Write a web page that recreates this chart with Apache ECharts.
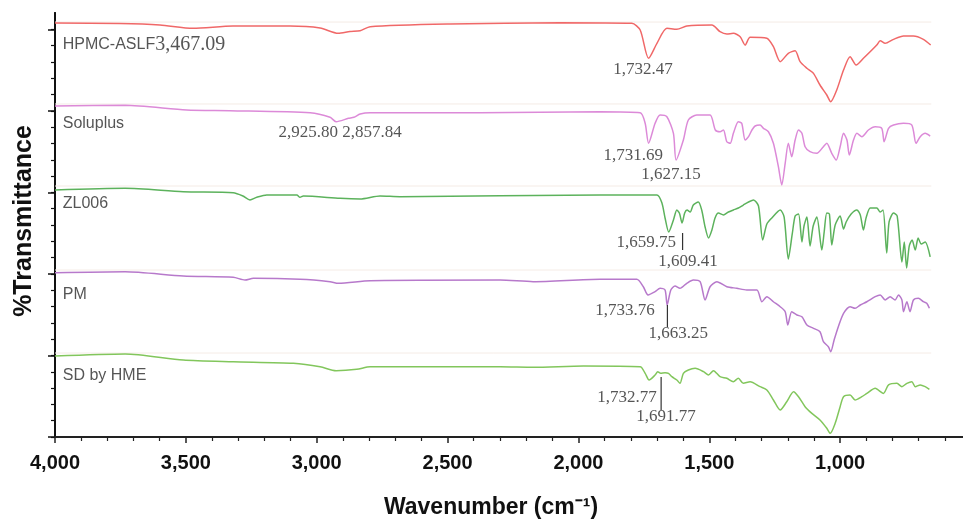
<!DOCTYPE html>
<html><head><meta charset="utf-8">
<script src="https://cdn.jsdelivr.net/npm/echarts@6/dist/echarts.min.js"></script>
<style>html,body{margin:0;padding:0;background:#fff;overflow:hidden}#c{width:963px;height:524px}</style>
</head><body><div id="c"></div>
<script>
// x-axis tick labels (wavenumber, cm-1)
const xTickLabels = [1000, 1500, 2000, 2500, 3000, 3500, 4000];
// y major / minor tick positions (offset %T units)
const yMajorTicks = [0, 1, 2, 3, 4, 5];
const yMinorTicks = [0,0.2,0.4,0.6,0.8,1,1.2,1.4,1.6,1.8,2,2.2,2.4,2.6,2.8,3,3.2,3.4,3.6,3.8,4,4.2,4.4,4.6,4.8,5];

// spectra: [wavenumber, offset transmittance]
const hpmc = [[4000,5.077],[3752,5.071],[3599,5.053],[3473,5.012],[3320,5.040],[3102,5.040],[2987,5.016],[2918,4.951],[2873,4.973],[2834,4.983],[2796,5.032],[2490,5.065],[2070,5.081],[1796,5.074],[1764,4.991],[1732,4.644],[1700,4.828],[1662,5.012],[1624,5.000],[1586,5.040],[1490,5.053],[1459,4.971],[1433,4.942],[1408,4.951],[1382,4.909],[1363,4.807],[1344,4.902],[1280,4.890],[1255,4.787],[1229,4.603],[1198,4.706],[1172,4.738],[1153,4.603],[1127,4.522],[1102,4.460],[1077,4.317],[1051,4.194],[1036,4.112],[1013,4.256],[987,4.501],[962,4.664],[939,4.562],[911,4.644],[860,4.807],[847,4.860],[828,4.828],[796,4.877],[758,4.918],[720,4.918],[682,4.877],[654,4.807]];
const soluplus = [[4000,4.059],[3732,4.068],[3497,4.010],[3331,4.002],[3025,3.977],[2949,3.921],[2926,3.867],[2879,3.908],[2858,3.921],[2834,3.961],[2796,3.977],[2376,3.977],[1917,3.989],[1764,3.977],[1745,3.847],[1732,3.602],[1707,3.847],[1688,3.949],[1662,3.928],[1637,3.724],[1627,3.397],[1599,3.642],[1580,3.888],[1548,3.949],[1497,3.949],[1477,3.765],[1459,3.744],[1446,3.765],[1433,3.621],[1420,3.602],[1408,3.724],[1389,3.867],[1376,3.847],[1363,3.642],[1350,3.683],[1337,3.765],[1325,3.814],[1306,3.826],[1293,3.786],[1274,3.744],[1255,3.602],[1236,3.315],[1223,3.090],[1210,3.357],[1198,3.602],[1185,3.437],[1172,3.642],[1159,3.765],[1146,3.724],[1134,3.560],[1115,3.499],[1089,3.479],[1064,3.560],[1051,3.602],[1032,3.479],[1015,3.397],[1000,3.560],[987,3.724],[974,3.642],[965,3.458],[949,3.642],[936,3.724],[917,3.683],[892,3.765],[866,3.805],[841,3.786],[832,3.621],[815,3.786],[796,3.826],[758,3.847],[726,3.826],[710,3.602],[694,3.683],[675,3.724],[656,3.691]];
const zl006 = [[4000,3.029],[3732,3.050],[3510,3.008],[3319,2.996],[3282,2.956],[3255,2.907],[3229,2.940],[3191,2.968],[3076,2.968],[3064,2.940],[3051,2.956],[2911,2.927],[2834,2.919],[2758,2.956],[2682,2.947],[1917,2.968],[1700,2.968],[1681,2.870],[1669,2.686],[1655,2.514],[1637,2.661],[1624,2.784],[1614,2.745],[1604,2.625],[1594,2.747],[1585,2.784],[1573,2.759],[1561,2.845],[1542,2.882],[1529,2.784],[1516,2.575],[1503,2.441],[1490,2.539],[1478,2.686],[1465,2.747],[1446,2.723],[1427,2.759],[1408,2.784],[1389,2.808],[1370,2.845],[1350,2.882],[1331,2.907],[1312,2.833],[1296,2.416],[1280,2.612],[1261,2.686],[1229,2.784],[1214,2.698],[1198,2.183],[1183,2.490],[1172,2.710],[1159,2.735],[1146,2.392],[1138,2.588],[1127,2.698],[1115,2.342],[1103,2.588],[1089,2.698],[1070,2.293],[1061,2.514],[1051,2.747],[1041,2.735],[1032,2.355],[1019,2.600],[1000,2.710],[987,2.551],[977,2.637],[958,2.735],[936,2.784],[923,2.723],[911,2.539],[901,2.686],[885,2.808],[860,2.808],[847,2.759],[836,2.784],[822,2.257],[813,2.637],[796,2.747],[782,2.710],[764,2.146],[755,2.392],[746,2.073],[736,2.342],[725,2.416],[713,2.293],[702,2.441],[690,2.367],[675,2.391],[656,2.208]];
const pm = [[4000,2.015],[3732,2.027],[3510,1.975],[3319,1.959],[3274,1.925],[3242,1.946],[3064,1.934],[2949,1.905],[2917,1.885],[2796,1.917],[2299,1.925],[2173,1.905],[1917,1.934],[1777,1.934],[1752,1.843],[1734,1.742],[1707,1.782],[1688,1.824],[1669,1.803],[1661,1.619],[1647,1.803],[1631,1.852],[1612,1.824],[1586,1.885],[1561,1.925],[1535,1.905],[1516,1.680],[1497,1.843],[1471,1.905],[1433,1.843],[1395,1.824],[1357,1.803],[1318,1.803],[1299,1.659],[1280,1.721],[1255,1.659],[1229,1.598],[1210,1.537],[1200,1.374],[1185,1.537],[1165,1.496],[1146,1.475],[1127,1.374],[1102,1.333],[1077,1.291],[1064,1.169],[1045,1.107],[1036,1.046],[1023,1.190],[1007,1.353],[987,1.517],[962,1.598],[943,1.578],[923,1.619],[898,1.659],[866,1.721],[847,1.742],[828,1.680],[809,1.721],[790,1.680],[777,1.742],[764,1.680],[758,1.537],[745,1.659],[733,1.537],[720,1.680],[701,1.701],[682,1.659],[669,1.640],[659,1.578]];
const sdHme = [[4000,0.993],[3732,1.018],[3510,0.944],[3319,0.923],[3089,0.904],[2987,0.862],[2926,0.813],[2847,0.830],[2796,0.862],[2299,0.862],[2172,0.855],[1981,0.871],[1764,0.862],[1745,0.781],[1730,0.699],[1707,0.760],[1697,0.801],[1686,0.781],[1669,0.789],[1656,0.781],[1643,0.740],[1624,0.699],[1612,0.658],[1599,0.781],[1580,0.822],[1554,0.842],[1522,0.801],[1503,0.760],[1484,0.813],[1459,0.740],[1433,0.720],[1408,0.678],[1389,0.720],[1370,0.658],[1344,0.678],[1306,0.617],[1280,0.576],[1255,0.454],[1229,0.331],[1204,0.433],[1178,0.555],[1159,0.494],[1134,0.372],[1108,0.290],[1077,0.209],[1051,0.107],[1038,0.045],[1019,0.168],[1000,0.372],[987,0.494],[962,0.515],[943,0.454],[917,0.494],[898,0.535],[866,0.597],[835,0.535],[815,0.638],[783,0.658],[764,0.617],[745,0.658],[726,0.678],[713,0.617],[694,0.638],[675,0.617],[659,0.585]];

// sample names and their vertical label positions
const sampleNames = ['HPMC-ASLF', 'Soluplus', 'ZL006', 'PM', 'SD by HME'];
const nameSuffix = ['3,467.09', '', '', '', ''];
const nameY = [4.807, 3.847, 2.857, 1.750, 0.748];
const nameX = 3980;
const colors = ['#f06868', '#dc8ad8', '#5cb25c', '#b779cb', '#82c65c'];

// faint guide line levels
const guideLevels = [5.089, 4.084, 3.078, 2.048, 1.030];

// peak annotations
const peakText = ['1,732.47','2,925.80 2,857.84','1,731.69','1,627.15','1,659.75','1,609.41','1,733.76','1,663.25','1,732.77','1,691.77'];
const peakX = [1753, 2911, 1791, 1646, 1741, 1581, 1822, 1619, 1814, 1665];
const peakY = [4.501, 3.728, 3.446, 3.225, 2.379, 2.158, 1.557, 1.263, 0.478, 0.245];
// leader lines [wavenumber, top, bottom]
const leaderX = [1602, 1660, 1684];
const leaderTop = [2.502, 1.619, 0.736];
const leaderBottom = [2.293, 1.349, 0.331];

const spectra = [hpmc, soluplus, zl006, pm, sdHme];

const series = [];
guideLevels.forEach(function (lv) {
  series.push({type: 'line', data: [[4000, lv], [652, lv]], showSymbol: false, silent: true, z: 1,
    lineStyle: {color: '#f5ece6', width: 1}});
});
spectra.forEach(function (d, i) {
  series.push({type: 'line', name: sampleNames[i], data: d, showSymbol: false, z: 3, smooth: 0.25,
    lineStyle: {color: colors[i], width: 1.5}});
});
leaderX.forEach(function (x, i) {
  series.push({type: 'line', data: [[x, leaderTop[i]], [x, leaderBottom[i]]], showSymbol: false, z: 4,
    lineStyle: {color: '#333', width: 1.2}});
});
series.push({
  type: 'scatter', z: 5, symbolSize: 1, itemStyle: {color: 'rgba(0,0,0,0)'},
  data: peakText.map(function (t, i) { return [peakX[i], peakY[i], t]; }),
  label: {show: true, position: 'inside', formatter: function (p) { return p.value[2]; },
    fontFamily: 'Liberation Serif', fontSize: 17, color: '#2a2a2a'}
});
series.push({
  type: 'scatter', z: 5, symbolSize: 1, itemStyle: {color: 'rgba(0,0,0,0)'},
  data: sampleNames.map(function (n, i) { return [nameX, nameY[i], i]; }),
  label: {show: true, position: 'right', distance: 2,
    formatter: function (p) { var i = p.value[2]; return '{a|' + sampleNames[i] + '}' + (nameSuffix[i] ? '{b|' + nameSuffix[i] + '}' : ''); },
    rich: {a: {fontFamily: 'Liberation Sans', fontSize: 16, color: '#2a2a2a'},
           b: {fontFamily: 'Liberation Serif', fontSize: 20, color: '#2a2a2a'}}}
});

const chart = echarts.init(document.getElementById('c'), null, {renderer: 'canvas'});
chart.setOption({
  animation: false,
  backgroundColor: '#fff',
  grid: {left: 55, width: 916, top: 13, height: 424, containLabel: false, outerBoundsMode: 'none'},
  xAxis: {
    type: 'value', min: 500, max: 4000, interval: 500, inverse: true,
    axisLine: {show: true, onZero: false, lineStyle: {color: '#222', width: 2}},
    axisTick: {show: true, length: 6, lineStyle: {color: '#222', width: 1.5}},
    minorTick: {show: true, splitNumber: 5, length: 4, lineStyle: {color: '#222', width: 1.2}},
    axisLabel: {show: true, margin: 16, fontFamily: 'Liberation Sans', fontWeight: 'bold', fontSize: 20, color: '#111',
      formatter: function (v) { return xTickLabels.indexOf(v) >= 0 ? v.toLocaleString('en-US') : ''; }},
    splitLine: {show: false}, minorSplitLine: {show: false}
  },
  yAxis: [{
    type: 'value', min: 0, max: 5.2, position: 'left',
    axisLine: {show: true, onZero: false, lineStyle: {color: '#111', width: 2}},
    axisTick: {show: true, length: 7, customValues: yMajorTicks, lineStyle: {color: '#111', width: 1.5}},
    axisLabel: {show: false}, splitLine: {show: false}
  }, {
    type: 'value', min: 0, max: 5.2, position: 'left',
    axisLine: {show: true, onZero: false, lineStyle: {color: '#111', width: 2}},
    axisTick: {show: true, length: 4, customValues: yMinorTicks, lineStyle: {color: '#111', width: 1.2}},
    axisLabel: {show: false}, splitLine: {show: false}
  }],
  graphic: [
    {type: 'text', x: 491, y: 508, style: {text: 'Wavenumber (cm\u207B\u00B9)', fontFamily: 'Liberation Sans', fontWeight: 'bold', fontSize: 23, fill: '#111', textAlign: 'center', textVerticalAlign: 'middle'}},
    {type: 'text', x: 24, y: 221, rotation: Math.PI / 2, style: {text: '%Transmittance', fontFamily: 'Liberation Sans', fontWeight: 'bold', fontSize: 25, fill: '#111', textAlign: 'center', textVerticalAlign: 'middle'}}
  ],
  series: series
});
</script></body></html>
